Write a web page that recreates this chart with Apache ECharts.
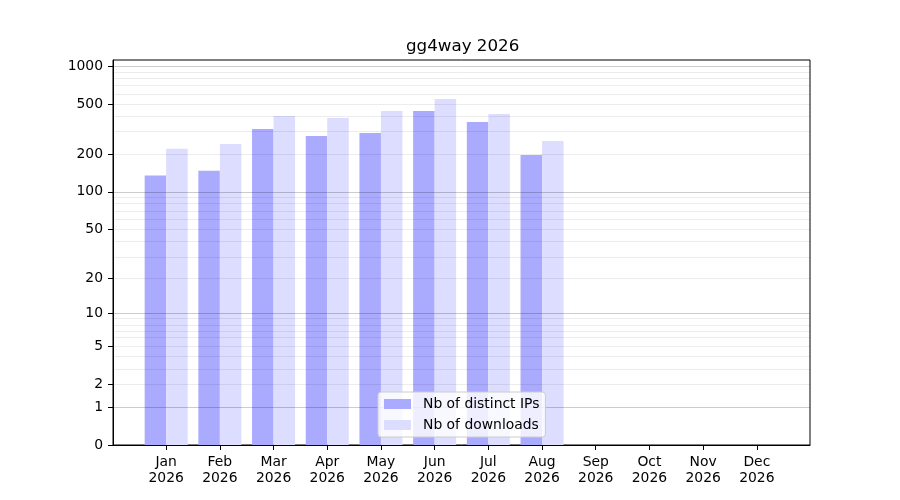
<!DOCTYPE html>
<html>
<head>
<meta charset="utf-8">
<script src="https://cdn.jsdelivr.net/npm/echarts@6/dist/echarts.min.js"></script>
<style>html,body{margin:0;padding:0;background:#fff;}#c{width:900px;height:500px;}</style>
</head>
<body>
<div id="c"></div>
<script>
const titleText = 'gg4way 2026';
const months = ['Jan','Feb','Mar','Apr','May','Jun','Jul','Aug','Sep','Oct','Nov','Dec'];
const yearLabel = '2026';
const ipValues = [135, 147, 317, 279, 294, 440, 360, 197, 0, 0, 0, 0];
const downloadValues = [220, 241, 401, 387, 440, 548, 416, 254, 0, 0, 0, 0];
const yTickLabels = [0, 1, 2, 5, 10, 20, 50, 100, 200, 500, 1000];
const majorGrid = [1, 10, 100, 1000];
const minorGrid = [2,3,4,5,6,7,8,9,20,30,40,50,60,70,80,90,200,300,400,500,600,700,800,900];
const seriesNames = ['Nb of distinct IPs', 'Nb of downloads'];

const tf = v => Math.log10(1 + v);
const inv = t => Math.round(Math.pow(10, t) - 1);
const FONT = 'DejaVu Sans';

const xPos = months.map((m, i) => i + 1);
const ipData = ipValues.map((v, i) => [xPos[i], tf(v)]);
const dlData = downloadValues.map((v, i) => [xPos[i], tf(v)]);

const gridLines = []
  .concat(minorGrid.map(v => ({ yAxis: tf(v), lineStyle: { color: 'rgba(0,0,0,0.075)', width: 1, type: 'solid' } })))
  .concat(majorGrid.map(v => ({ yAxis: tf(v), lineStyle: { color: 'rgba(0,0,0,0.2)', width: 1, type: 'solid' } })));

const chart = echarts.init(document.getElementById('c'), null, { renderer: 'canvas' });
chart.setOption({
  animation: false,
  backgroundColor: '#ffffff',
  textStyle: { fontFamily: FONT },
  title: {
    text: titleText,
    left: 401, top: 33,
    textStyle: { fontFamily: FONT, fontSize: 16.7, fontWeight: 'normal', color: '#000' }
  },
  grid: { left: 113, right: 90, top: 60, bottom: 55, show: true, borderColor: '#000', borderWidth: 1, backgroundColor: 'transparent' },
  legend: {
    orient: 'vertical',
    left: 378, top: 392,
    data: seriesNames,
    icon: 'rect',
    itemWidth: 27, itemHeight: 10, itemGap: 7,
    padding: [5, 6, 5, 6],
    backgroundColor: 'rgba(255,255,255,0.8)',
    borderColor: '#cccccc', borderWidth: 1, borderRadius: 3,
    textStyle: { fontFamily: FONT, fontSize: 13.9, color: '#000', lineHeight: 14, padding: [0, 0, 0, 7] },
    z: 20
  },
  xAxis: {
    type: 'value',
    min: 0.01, max: 12.99,
    splitLine: { show: false },
    axisLine: { show: true, lineStyle: { color: '#000', width: 1 } },
    axisTick: { show: true, customValues: xPos, length: 5, lineStyle: { color: '#000', width: 1 } },
    axisLabel: {
      customValues: xPos,
      margin: 9,
      fontFamily: FONT, fontSize: 13.9, color: '#000', lineHeight: 16,
      formatter: v => { const i = Math.round(v) - 1; return months[i] ? months[i] + '\n' + yearLabel : ''; }
    }
  },
  yAxis: {
    type: 'value',
    min: 0, max: 3.048,
    splitLine: { show: false },
    axisLine: { show: true, lineStyle: { color: '#000', width: 1 } },
    axisTick: { show: true, customValues: yTickLabels.map(tf), length: 5, lineStyle: { color: '#000', width: 1 } },
    axisLabel: {
      customValues: yTickLabels.map(tf),
      margin: 10,
      fontFamily: FONT, fontSize: 13.9, color: '#000',
      formatter: v => String(inv(v))
    }
  },
  series: [
    {
      name: seriesNames[0],
      type: 'bar',
      data: ipData,
      barWidth: 21.5,
      barGap: '0%',
      itemStyle: { color: '#aaaaff' }
    },
    {
      name: seriesNames[1],
      type: 'bar',
      data: dlData,
      barWidth: 21.5,
      barGap: '0%',
      itemStyle: { color: '#ddddff' },
      markLine: {
        silent: true,
        symbol: ['none', 'none'],
        label: { show: false },
        z: 10,
        data: gridLines
      }
    }
  ]
});
</script>
</body>
</html>
